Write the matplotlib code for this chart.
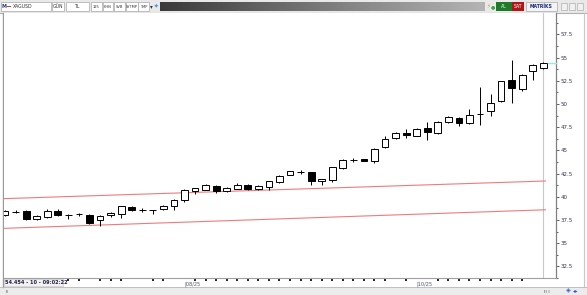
import matplotlib
matplotlib.use("Agg")
import matplotlib.pyplot as plt
import numpy as np
from matplotlib.patches import Rectangle
from matplotlib.colors import LinearSegmentedColormap

# Datos de velas (XAGUSD)
opens = [38.0, 38.37, 38.5, 37.6, 37.8, 38.5, 38.0, 38.1, 38.0, 37.45, 38.0, 38.1, 38.9,
         38.6, 38.6, 38.7, 39.0, 39.7, 40.6, 40.75, 41.2, 40.6, 40.85, 41.3, 40.85, 41.05,
         41.6, 42.35, 42.65, 42.65, 41.7, 41.8, 43.1, 44.0, 44.05, 43.9, 45.4, 46.3, 46.9,
         46.6, 47.45, 46.9, 48.1, 48.5, 47.9, 48.9, 49.25, 50.3, 52.55, 51.6, 53.5, 53.9]
closes = [38.5, 38.37, 37.6, 37.9, 38.5, 38.0, 38.0, 38.1, 37.2, 37.98, 38.2, 39.0, 38.55,
          38.6, 38.6, 39.05, 39.7, 40.75, 40.95, 41.3, 40.65, 40.95, 41.3, 40.85, 41.2, 41.7,
          42.2, 42.75, 42.65, 41.7, 41.9, 43.2, 44.0, 44.0, 43.9, 45.2, 46.2, 46.9, 46.7,
          47.3, 47.0, 48.1, 48.6, 47.9, 48.8, 48.9, 50.1, 52.45, 51.7, 53.1, 54.25, 54.45]
highs = [38.6, 38.55, 38.6, 38.0, 38.65, 38.7, 38.1, 38.3, 38.1, 38.05, 38.35, 39.05, 39.0,
         38.75, 38.6, 39.15, 39.8, 40.8, 41.0, 41.4, 41.3, 41.1, 41.5, 41.35, 41.3, 41.75,
         42.3, 42.8, 42.9, 42.7, 41.95, 43.25, 44.1, 44.2, 44.1, 45.3, 46.6, 47.0, 47.3,
         47.4, 48.1, 48.2, 48.7, 48.6, 49.5, 51.8, 51.1, 52.5, 54.7, 53.2, 54.3, 54.5]
lows = [37.9, 38.2, 37.5, 37.5, 37.7, 37.9, 37.6, 37.9, 37.1, 36.9, 37.8, 37.7, 38.45,
        38.4, 38.1, 38.6, 38.6, 39.4, 40.3, 40.7, 40.4, 40.55, 40.8, 40.7, 40.7, 40.7,
        41.5, 42.3, 42.5, 41.3, 41.3, 41.6, 43.0, 43.8, 43.85, 43.6, 45.3, 46.2, 46.3,
        46.5, 46.1, 46.8, 48.0, 47.6, 47.8, 47.7, 48.7, 50.2, 50.1, 51.4, 52.6, 53.8]

# Canal (líneas rojas)
canal_x = [-0.1, 51.2]
canal_sup = [39.8, 41.7]
canal_inf = [36.6, 38.6]

y_ticks = [32.5, 35, 37.5, 40, 42.5, 45, 47.5, 50, 52.5, 55, 57.5]
x_marcas = [6, 7, 9, 10, 11, 14, 15, 18, 19, 20, 21, 22, 23, 24, 25, 26, 27, 28, 29, 30,
            31, 32, 33, 34, 35, 36, 38, 41, 42, 43, 44, 45, 46, 47, 48, 49]
fechas = {17: "08/25", 39: "10/25"}
ultimo = 54.454

W, H = 587, 295
fig = plt.figure(figsize=(W / 100, H / 100), dpi=100)
fig.patch.set_facecolor("white")

# --------- Marco / barra de herramientas ---------
bg = fig.add_axes([0, 0, 1, 1], zorder=0)
bg.set_xlim(0, W)
bg.set_ylim(H, 0)
bg.axis("off")
bg.add_patch(Rectangle((0, 0), W, 13, facecolor="#e9e9e9", edgecolor="none"))
bg.plot([0, W], [13, 13], color="#b0b0b0", lw=0.8)
for x0, x1 in [(1, 51), (52, 64), (66, 89), (91, 102), (103, 113), (114, 125), (126, 138), (138, 149)]:
    bg.add_patch(Rectangle((x0, 2), x1 - x0, 8.5, facecolor="white", edgecolor="#a8a8a8", lw=0.5))
bg.text(1.5, 6.5, "M", fontsize=3.5, color="#1a3a8a", va="center", weight="bold")
bg.text(5, 6.5, "~", fontsize=5, color="#cc2222", va="center", weight="bold")
bg.text(13, 6.5, "XAGUSD", fontsize=3.3, color="#333333", va="center")
bg.text(58, 6.5, "GÜN", fontsize=3.3, color="#333333", va="center", ha="center")
bg.text(77, 6.5, "TL", fontsize=3.3, color="#333333", va="center", ha="center")
for xc, t in [(96.5, "125"), (108, "KHN"), (119.5, "SVB"), (132, "SYTMP"), (143.5, "TMP")]:
    bg.text(xc, 6.5, t, fontsize=2.6, color="#333333", va="center", ha="center")
bg.text(151, 6.5, "▾", fontsize=4, color="#333333", va="center", ha="center")
bg.text(156.5, 6.5, "✦", fontsize=4, color="#3399dd", va="center", ha="center")
grad = np.linspace(0, 1, 200).reshape(1, -1)
cmap_g = LinearSegmentedColormap.from_list("g", ["#3a3a3a", "#7a7a7a", "#b4b4b4"])
bg.imshow(grad, cmap=cmap_g, aspect="auto", extent=(160, 485, 11, 2), zorder=1)
bg.text(487, 6.5, "⚡", fontsize=4, color="#e0a020", va="center")
bg.text(491, 6.5, "●", fontsize=3.5, color="#40a040", va="center")
bg.add_patch(Rectangle((496, 2), 16, 8.5, facecolor="#1e7a2a", edgecolor="none", zorder=2))
bg.text(504, 6.5, "AL", fontsize=3.3, color="white", va="center", ha="center", zorder=3)
bg.add_patch(Rectangle((512, 2), 12, 8.5, facecolor="#b01818", edgecolor="none", zorder=2))
bg.text(518, 6.5, "SAT", fontsize=3.3, color="white", va="center", ha="center", zorder=3)
bg.add_patch(Rectangle((526, 2), 31, 8.5, facecolor="#f4f4f4", edgecolor="#a8a8a8", lw=0.5, zorder=2))
bg.text(541.5, 6.5, "MATRİKS", fontsize=3.3, color="#1a2a7a", va="center", ha="center", weight="bold", zorder=3)
for xb in [561, 569, 577]:
    bg.add_patch(Rectangle((xb, 3), 6, 6.5, facecolor="#f0f0f0", edgecolor="#b0b0b0", lw=0.5, zorder=2))
# bordes
bg.plot([2.5, 2.5], [13, 287], color="#9a9a9a", lw=1)
bg.plot([583.5, 583.5], [13, 287], color="#c8c8c8", lw=0.8)
bg.add_patch(Rectangle((0, 287), W, 8, facecolor="#ececec", edgecolor="none"))
bg.plot([0, W], [287, 287], color="#b8b8b8", lw=0.6)
bg.text(5, 291.5, "ıı", fontsize=3.5, color="#555555", va="center")
bg.text(544, 291.5, "ıı ı", fontsize=3.5, color="#555555", va="center")
bg.text(566, 291, "◈", fontsize=4.5, color="#2a5cc0", va="center")
bg.text(573, 291, "◂▸", fontsize=4, color="#2a5cc0", va="center")

# --------- Gráfico de velas ---------
ax = fig.add_axes([4 / W, 1 - 278 / H, (556 - 4) / W, (278 - 13) / H], zorder=1)
ax.set_facecolor("white")
x = np.arange(len(opens))
o = np.array(opens)
c = np.array(closes)
ax.vlines(x, lows, highs, color="black", lw=0.7, zorder=2)
subida = c >= o
ax.bar(x[subida], (c - o)[subida], bottom=o[subida], width=0.64,
       color="white", edgecolor="black", linewidth=0.7, zorder=3)
ax.bar(x[~subida], (c - o)[~subida], bottom=o[~subida], width=0.64,
       color="black", edgecolor="black", linewidth=0.7, zorder=3)

ax.plot(canal_x, canal_sup, color="#f07a7a", lw=0.8, zorder=1)
ax.plot(canal_x, canal_inf, color="#f07a7a", lw=0.8, zorder=1)
ax.axvline(len(opens) - 1, color="#c8c8c8", lw=0.8, zorder=0)
ax.plot([51.4, 52.2], [ultimo, ultimo], color="#9ee6e6", lw=1, clip_on=False, zorder=4)

ax.set_xlim(-0.1, 52.2)
ax.set_ylim(31.6, 59.8)

ax.yaxis.tick_right()
ax.set_yticks(y_ticks)
ax.set_yticklabels([f"{v:g}" for v in y_ticks])
ax.set_yticks(np.arange(31.25, 59.0, 1.25), minor=True)
ax.tick_params(axis="y", which="major", length=2.5, width=0.6, pad=1,
               labelsize=4, labelcolor="#333355", color="#444444")
ax.tick_params(axis="y", which="minor", length=1.2, width=0.6, color="#444444")

ax.set_xticks(x_marcas)
ax.set_xticklabels([])
ax.tick_params(axis="x", which="major", length=2, width=1.4, color="#222222", pad=1)

for i, t in fechas.items():
    ax.annotate("", xy=(i, 0), xycoords=("data", "axes fraction"))
    ax.text(i, -0.012, "|" + t, transform=ax.get_xaxis_transform(), fontsize=3.6,
            color="#445577", va="top", ha="left")

for s in ["top", "left"]:
    ax.spines[s].set_visible(False)
ax.spines["right"].set_color("#808080")
ax.spines["bottom"].set_color("#a0a0a0")
ax.spines["right"].set_linewidth(0.9)
ax.spines["bottom"].set_linewidth(0.8)

# Etiqueta de precio abajo a la izquierda
bg.add_patch(Rectangle((4, 279), 59, 7, facecolor="#f2f2f2", edgecolor="#c0c0c0", lw=0.4, zorder=3))
bg.text(5, 282.7, "54.454 - 10 - 09:02:22", fontsize=3.6, color="#222244",
        va="center", weight="bold", zorder=4)

fig.savefig("out.png", dpi=100)
